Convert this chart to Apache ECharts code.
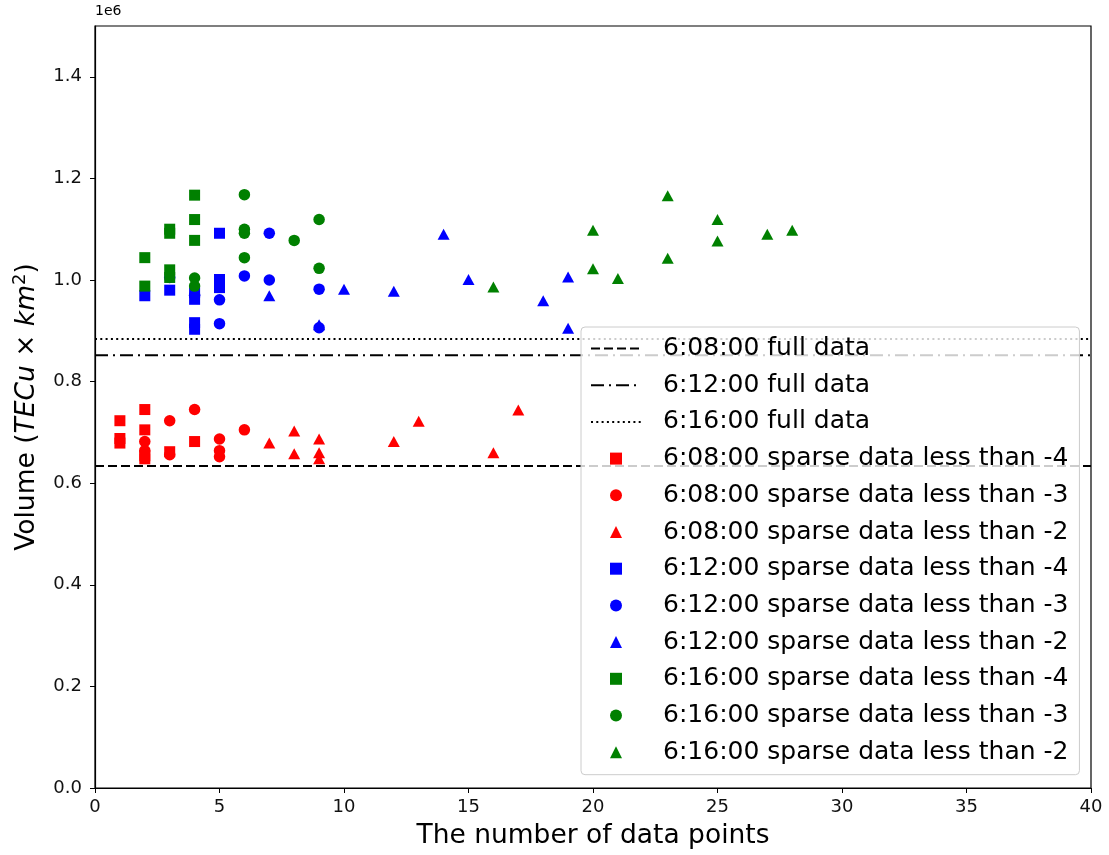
<!DOCTYPE html>
<html>
<head>
<meta charset="utf-8">
<script src="https://cdn.jsdelivr.net/npm/echarts@6/dist/echarts.min.js"></script>
<style>html,body{margin:0;padding:0;background:#fff}#c{width:1109px;height:855px}</style>
</head>
<body>
<div id="c"></div>
<script>
// values in units of 1e6 (TECu x km^2)
const xTicks = [0, 5, 10, 15, 20, 25, 30, 35, 40];
const yTicks = [0, 0.2, 0.4, 0.6, 0.8, 1.0, 1.2, 1.4];

const full0608 = 0.634;
const full0612 = 0.852;
const full0616 = 0.884;

const red4 = [[1,0.723],[1,0.688],[1,0.679],[2,0.745],[2,0.705],[2,0.654],[2,0.648],[3,0.662],[4,0.682]];
const red3 = [[2,0.682],[2,0.664],[3,0.723],[3,0.656],[4,0.745],[5,0.687],[5,0.664],[5,0.652],[6,0.705]];
const red2 = [[7,0.679],[8,0.703],[8,0.658],[9,0.687],[9,0.660],[9,0.648],[12,0.682],[13,0.722],[16,0.660],[17,0.744]];

const blue4 = [[2,0.969],[3,0.980],[4,0.975],[4,0.962],[4,0.916],[4,0.903],[5,1.092],[5,1.001],[5,0.985]];
const blue3 = [[3,1.005],[4,0.970],[5,0.961],[5,0.914],[6,1.008],[7,1.092],[7,1.000],[9,0.982],[9,0.906]];
const blue2 = [[7,0.969],[9,0.912],[10,0.982],[12,0.978],[14,1.090],[15,1.001],[18,0.959],[19,1.006],[19,0.905]];

const green4 = [[2,1.044],[2,0.988],[3,1.100],[3,1.092],[3,1.020],[3,1.005],[4,1.167],[4,1.119],[4,1.078]];
const green3 = [[4,1.004],[4,0.988],[6,1.168],[6,1.100],[6,1.092],[6,1.044],[8,1.078],[9,1.119],[9,1.023]];
const green2 = [[16,0.986],[20,1.098],[20,1.022],[21,1.003],[23,1.166],[23,1.043],[25,1.119],[25,1.077],[27,1.090],[28,1.098]];

const FONT = 'DejaVu Sans';
const SQ = 'path://M0,0L10,0L10,10L0,10Z';
const TRI = 'path://M5,0L10,10L0,10Z';

function hline(name, v, type) {
  return {
    name, type: 'line', data: [[0, v], [40, v]], symbol: 'none', silent: true, z: 3,
    itemStyle: { color: 'rgba(0,0,0,0)' },
    lineStyle: { color: '#000', width: 2, type }, animation: false
  };
}
function scat(name, data, color, symbol, size) {
  return {
    name, type: 'scatter', data, symbol, symbolSize: size, z: 2,
    itemStyle: { color, opacity: 1 }, animation: false
  };
}

const names = [
  '6:08:00 full data', '6:12:00 full data', '6:16:00 full data',
  '6:08:00 sparse data less than -4', '6:08:00 sparse data less than -3', '6:08:00 sparse data less than -2',
  '6:12:00 sparse data less than -4', '6:12:00 sparse data less than -3', '6:12:00 sparse data less than -2',
  '6:16:00 sparse data less than -4', '6:16:00 sparse data less than -3', '6:16:00 sparse data less than -2'
];
const icons = [null, null, null, SQ, 'circle', TRI, SQ, 'circle', TRI, SQ, 'circle', TRI];

const chart = echarts.init(document.getElementById('c'));
chart.setOption({
  animation: false,
  backgroundColor: '#fff',
  textStyle: { fontFamily: FONT },
  grid: { left: 95, right: 18, top: 26, bottom: 65, show: true, borderColor: '#000', borderWidth: 1.2, backgroundColor: 'transparent' },
  xAxis: {
    type: 'value', min: 0, max: 40, interval: 5,
    name: 'The number of data points', nameLocation: 'middle', nameGap: 35,
    nameTextStyle: { fontSize: 26.5, color: '#000', fontFamily: FONT },
    axisLine: { lineStyle: { color: '#000', width: 1.2 } },
    axisTick: { show: true, inside: false, length: 5, lineStyle: { color: '#000' }, customValues: xTicks },
    axisLabel: { fontSize: 18, color: '#111', margin: 10, fontFamily: FONT, customValues: xTicks },
    splitLine: { show: false }
  },
  yAxis: {
    type: 'value', min: 0, max: 1.5,
    name: '{n|Volume (}{i|TECu}{n| × }{i|km}{s|2}{n|)}', nameLocation: 'middle', nameGap: 52, nameRotate: 90,
    nameTextStyle: {
      color: '#000', fontSize: 26.5, fontFamily: FONT,
      rich: {
        n: { fontSize: 26.5, fontFamily: FONT, color: '#000' },
        i: { fontSize: 26.5, fontFamily: FONT, fontStyle: 'italic', color: '#000' },
        s: { fontSize: 18, fontFamily: FONT, color: '#000', verticalAlign: 'bottom', padding: [0, 0, 14, 0] }
      }
    },
    axisLine: { show: true, lineStyle: { color: '#000', width: 1.2 } },
    axisTick: { show: true, inside: false, length: 5, lineStyle: { color: '#000' }, customValues: yTicks },
    axisLabel: { fontSize: 18, color: '#111', margin: 13, fontFamily: FONT, customValues: yTicks,
      formatter: v => v.toFixed(1) },
    splitLine: { show: false }
  },
  legend: {
    orient: 'vertical', left: 581, top: 327,
    padding: [7, 11, 8, 9], itemGap: 7.7, itemWidth: 50, itemHeight: 12,
    backgroundColor: 'rgba(255,255,255,0.8)', borderColor: '#cccccc', borderWidth: 1, borderRadius: 4,
    textStyle: { fontSize: 25, color: '#000', fontFamily: FONT, lineHeight: 29, padding: [0, 0, 0, 17] },
    selectedMode: false, z: 10,
    data: names.map((n, i) => icons[i] ? { name: n, icon: icons[i] } : { name: n, itemStyle: { opacity: 0 } })
  },
  graphic: [{
    type: 'text', left: 95, top: 4,
    style: { text: '1e6', font: '14px "DejaVu Sans"', fill: '#000' }
  }],
  series: [
    hline(names[0], full0608, [9, 4]),
    hline(names[1], full0612, [13, 5, 2, 5]),
    hline(names[2], full0616, [2, 3.3]),
    scat(names[3], red4, '#ff0000', 'rect', 11),
    scat(names[4], red3, '#ff0000', 'circle', 11.5),
    scat(names[5], red2, '#ff0000', 'triangle', [12, 11]),
    scat(names[6], blue4, '#0000ff', 'rect', 11),
    scat(names[7], blue3, '#0000ff', 'circle', 11.5),
    scat(names[8], blue2, '#0000ff', 'triangle', [12, 11]),
    scat(names[9], green4, '#008000', 'rect', 11),
    scat(names[10], green3, '#008000', 'circle', 11.5),
    scat(names[11], green2, '#008000', 'triangle', [12, 11])
  ]
});
</script>
</body>
</html>
